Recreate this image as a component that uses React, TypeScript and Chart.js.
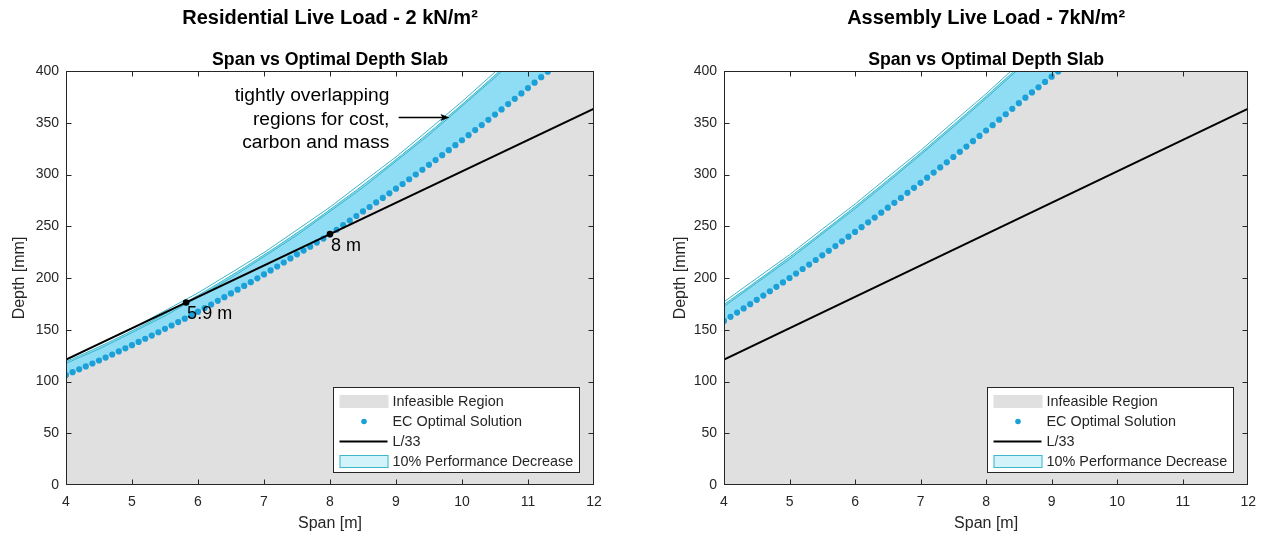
import React, { useEffect, useRef } from 'react';
import { Chart, registerables } from 'chart.js';

Chart.register(...registerables);

const FONT = '"Liberation Sans", Arial, Helvetica, sans-serif';
const TEXT = '#262626';
const AXIS = '#262626';
const GREY = '#e0e0e0';
const DOT = '#1ca0d8';
const BAND = '#8fdcf5';
const TEAL = '#3cb6c8';
const LEGEND_BAND = '#d3f3fb';

// ---------- shared data ----------
const xTicks = [4, 5, 6, 7, 8, 9, 10, 11, 12];
const yTicks = [0, 50, 100, 150, 200, 250, 300, 350, 400];
const l33Span = [4, 12];
const l33Depth = [121.2, 363.6];
const infeasibleTailSpan = [12];
const infeasibleTailDepth = [400];
const legendLabels = ['Infeasible Region', 'EC Optimal Solution', 'L/33', '10% Performance Decrease'];

// ---------- Residential (2 kN/m²) ----------
const resSpan = [
  4.0, 4.1, 4.2, 4.3, 4.4, 4.5, 4.6, 4.7, 4.8, 4.9,
  5.0, 5.1, 5.2, 5.3, 5.4, 5.5, 5.6, 5.7, 5.8, 5.9,
  6.0, 6.1, 6.2, 6.3, 6.4, 6.5, 6.6, 6.7, 6.8, 6.9,
  7.0, 7.1, 7.2, 7.3, 7.4, 7.5, 7.6, 7.7, 7.8, 7.9,
  8.0, 8.1, 8.2, 8.3, 8.4, 8.5, 8.6, 8.7, 8.8, 8.9,
  9.0, 9.1, 9.2, 9.3, 9.4, 9.5, 9.6, 9.7, 9.8, 9.9,
  10.0, 10.1, 10.2, 10.3, 10.4, 10.5, 10.6, 10.7, 10.8, 10.9,
  11.0, 11.1, 11.2, 11.3,
];
const resOptimalDepth = [
  106.3, 109.0, 111.8, 114.6, 117.4, 120.3, 123.1, 126.1, 129.1, 132.1,
  135.1, 138.2, 141.3, 144.4, 147.6, 150.9, 154.1, 157.4, 160.7, 164.1,
  167.5, 170.9, 174.4, 177.9, 181.5, 185.1, 188.7, 192.3, 196.0, 199.7,
  203.5, 207.3, 211.1, 215.0, 218.9, 222.9, 226.5, 230.3, 234.2, 238.1,
  242.0, 246.6, 251.0, 255.5, 259.9, 264.3, 268.6, 273.0, 277.4, 281.8,
  286.3, 290.8, 295.4, 300.0, 304.6, 309.3, 313.9, 318.7, 323.5, 328.3,
  333.1, 338.0, 342.9, 347.8, 352.8, 357.9, 362.9, 368.0, 373.1, 378.3,
  383.5, 388.7, 394.0, 399.3,
];
const resBandTop = [
  119.3, 122.0, 124.9, 127.7, 130.6, 133.6, 136.5, 139.6, 142.7, 145.8,
  149.0, 152.2, 155.5, 158.7, 162.1, 165.6, 169.0, 172.5, 176.0, 179.7,
  183.3, 187.0, 190.7, 194.5, 198.4, 202.3, 206.2, 210.1, 214.2, 218.2,
  222.4, 226.5, 230.7, 235.0, 239.3, 243.7, 248.0, 252.4, 257.0, 261.5,
  266.1, 270.8, 275.5, 280.2, 284.9, 289.8, 294.6, 299.6, 304.5, 309.5,
  314.6, 319.6, 324.8, 330.0, 335.3, 340.6, 345.8, 351.3, 356.7, 362.2,
  367.7, 373.3, 378.9, 384.5, 390.3, 396.1, 401.8, 407.7, 413.6, 419.6,
  425.6, 431.6, 437.7, 443.8,
];
const resOutlineSpan = [4, 4.5, 5, 5.5, 6, 6.5, 7, 7.5, 8, 8.5, 9, 9.5, 10, 10.5, 11];
const resOutlineCost = [120.6, 136.3, 151.2, 168.4, 185.6, 205.0, 224.6, 246.5, 268.5, 292.8, 317.0, 343.5, 370.5, 399.0, 428.5];
const resOutlineMass = [117.5, 131.4, 147.2, 163.4, 181.5, 200.1, 220.6, 241.4, 264.3, 287.4, 312.8, 338.3, 366.0, 393.8, 423.5];
const resMarkerSpan = [5.82, 8.0];
const resMarkerDepth = [176.4, 242.4];
const resMarkerLabels = ['5.9 m', '8 m'];
const resNoteLines = ['tightly overlapping', 'regions for cost,', 'carbon and mass'];
const resNoteSpan = 8.9;
const resNoteDepth = [375.8, 352.7, 330.4];
const resArrowSpan = [9.04, 9.81];
const resArrowDepth = 355.5;

// ---------- Assembly (7 kN/m²) ----------
const asmSpan = [
  4.0, 4.1, 4.2, 4.3, 4.4, 4.5, 4.6, 4.7, 4.8, 4.9,
  5.0, 5.1, 5.2, 5.3, 5.4, 5.5, 5.6, 5.7, 5.8, 5.9,
  6.0, 6.1, 6.2, 6.3, 6.4, 6.5, 6.6, 6.7, 6.8, 6.9,
  7.0, 7.1, 7.2, 7.3, 7.4, 7.5, 7.6, 7.7, 7.8, 7.9,
  8.0, 8.1, 8.2, 8.3, 8.4, 8.5, 8.6, 8.7, 8.8, 8.9,
  9.0, 9.1,
];
const asmOptimalDepth = [
  158.5, 162.5, 166.6, 170.6, 174.7, 178.9, 183.0, 187.2, 191.5, 195.7,
  200.0, 204.3, 208.7, 213.0, 217.4, 221.9, 226.3, 230.8, 235.4, 239.9,
  244.5, 249.1, 253.8, 258.4, 263.1, 267.9, 272.6, 277.4, 282.3, 287.1,
  292.0, 296.9, 301.9, 306.8, 311.8, 316.9, 321.9, 327.0, 332.2, 337.3,
  342.5, 347.7, 353.0, 358.2, 363.5, 368.9, 374.2, 379.3, 384.3, 389.4,
  394.5, 399.6,
];
const asmBandTop = [
  174.5, 178.9, 183.5, 187.9, 192.4, 197.1, 201.6, 206.2, 210.9, 215.6,
  220.3, 225.0, 229.9, 234.6, 239.4, 244.4, 249.2, 254.1, 259.1, 264.1,
  269.1, 274.1, 279.3, 284.3, 289.4, 294.7, 299.8, 305.0, 310.3, 315.6,
  320.9, 326.2, 331.7, 337.0, 342.4, 348.0, 353.4, 358.9, 364.5, 370.1,
  375.7, 381.3, 387.1, 392.7, 398.4, 404.3, 410.0, 415.8, 421.7, 427.6,
  433.5, 439.4,
];
const asmOutlineSpan = [4, 4.5, 5, 5.5, 6, 6.5, 7, 7.5, 8, 8.5, 9];
const asmOutlineCost = [177.0, 199.8, 222.5, 247.2, 271.4, 297.5, 323.2, 350.8, 378.0, 407.0, 436.0];
const asmOutlineMass = [172.5, 195.3, 218.1, 242.6, 267.0, 292.6, 319.0, 345.9, 373.6, 402.1, 431.0];

type Spec = {
  title: string;
  subtitle: string;
  span: number[];
  optimal: number[];
  bandTop: number[];
  outlineSpan: number[];
  outlineCost: number[];
  outlineMass: number[];
  markerSpan: number[];
  markerDepth: number[];
  markerLabels: string[];
  note: boolean;
  left: number;
  width: number;
  padLeft: number;
  padRight: number;
  yTitlePad: number;
};

const residential: Spec = {
  title: 'Residential Live Load - 2 kN/m²',
  subtitle: 'Span vs Optimal Depth Slab',
  span: resSpan,
  optimal: resOptimalDepth,
  bandTop: resBandTop,
  outlineSpan: resOutlineSpan,
  outlineCost: resOutlineCost,
  outlineMass: resOutlineMass,
  markerSpan: resMarkerSpan,
  markerDepth: resMarkerDepth,
  markerLabels: resMarkerLabels,
  note: true,
  left: 0,
  width: 632,
  padLeft: 10,
  padRight: 38,
  yTitlePad: 0,
};

const assembly: Spec = {
  title: 'Assembly Live Load - 7kN/m²',
  subtitle: 'Span vs Optimal Depth Slab',
  span: asmSpan,
  optimal: asmOptimalDepth,
  bandTop: asmBandTop,
  outlineSpan: asmOutlineSpan,
  outlineCost: asmOutlineCost,
  outlineMass: asmOutlineMass,
  markerSpan: [],
  markerDepth: [],
  markerLabels: [],
  note: false,
  left: 632,
  width: 633,
  padLeft: 36,
  padRight: 15,
  yTitlePad: 3,
};

const zip = (xs: number[], ys: number[]) => xs.map((x, i) => ({ x, y: ys[i] }));

function decorPlugin(s: Spec) {
  return {
    id: 'decor',
    afterDatasetsDraw(chart: any) {
      const { ctx, chartArea: a, scales } = chart;
      const xs = scales.x;
      const ys = scales.y;
      const L = Math.round(a.left) + 0.5;
      const R = Math.round(a.right) - 0.5;
      const T = Math.round(a.top) + 0.5;
      const B = Math.round(a.bottom) - 0.5;
      ctx.save();

      // annotations
      ctx.fillStyle = '#000';
      ctx.strokeStyle = '#000';
      if (s.note) {
        ctx.font = `19.2px ${FONT}`;
        ctx.textAlign = 'right';
        ctx.textBaseline = 'middle';
        resNoteLines.forEach((t, i) => {
          ctx.fillText(t, xs.getPixelForValue(resNoteSpan), ys.getPixelForValue(resNoteDepth[i]));
        });
        const x0 = xs.getPixelForValue(resArrowSpan[0]);
        const x1 = xs.getPixelForValue(resArrowSpan[1]);
        const y0 = Math.round(ys.getPixelForValue(resArrowDepth)) + 0.5;
        ctx.lineWidth = 1.3;
        ctx.beginPath();
        ctx.moveTo(x0, y0);
        ctx.lineTo(x1 - 6, y0);
        ctx.stroke();
        ctx.beginPath();
        ctx.moveTo(x1, y0);
        ctx.lineTo(x1 - 9, y0 - 3.5);
        ctx.lineTo(x1 - 7, y0);
        ctx.lineTo(x1 - 9, y0 + 3.5);
        ctx.closePath();
        ctx.fill();
      }
      ctx.font = `18px ${FONT}`;
      ctx.textAlign = 'left';
      ctx.textBaseline = 'top';
      s.markerSpan.forEach((v, i) => {
        const px = xs.getPixelForValue(v);
        const py = ys.getPixelForValue(s.markerDepth[i]);
        ctx.fillText(s.markerLabels[i], px + 1, py + 3);
      });

      // axes box + inward ticks
      ctx.strokeStyle = AXIS;
      ctx.lineWidth = 1;
      ctx.strokeRect(L, T, R - L, B - T);
      ctx.beginPath();
      const TICK = 5;
      xTicks.slice(1, -1).forEach((v) => {
        const px = Math.round(xs.getPixelForValue(v)) + 0.5;
        ctx.moveTo(px, B);
        ctx.lineTo(px, B - TICK);
        ctx.moveTo(px, T);
        ctx.lineTo(px, T + TICK);
      });
      yTicks.slice(1, -1).forEach((v) => {
        const py = Math.round(ys.getPixelForValue(v)) + 0.5;
        ctx.moveTo(L, py);
        ctx.lineTo(L + TICK, py);
        ctx.moveTo(R, py);
        ctx.lineTo(R - TICK, py);
      });
      ctx.stroke();

      // legend
      const lw = 246;
      const lh = 85;
      const lx = Math.round(a.right) - 261 + 0.5;
      const ly = Math.round(a.bottom) - 98 + 0.5;
      ctx.fillStyle = '#fff';
      ctx.fillRect(lx, ly, lw, lh);
      ctx.strokeStyle = AXIS;
      ctx.lineWidth = 1;
      ctx.strokeRect(lx, ly, lw, lh);
      const rows = [14, 34, 54, 74].map((r) => ly + r);
      const sx0 = lx + 6;
      const sx1 = lx + 55;
      ctx.fillStyle = GREY;
      ctx.fillRect(sx0, rows[0] - 6.5, sx1 - sx0, 13);
      ctx.fillStyle = DOT;
      ctx.beginPath();
      ctx.arc((sx0 + sx1) / 2, rows[1], 2.8, 0, Math.PI * 2);
      ctx.fill();
      ctx.strokeStyle = '#000';
      ctx.lineWidth = 2;
      ctx.beginPath();
      ctx.moveTo(sx0, rows[2]);
      ctx.lineTo(sx1 - 1, rows[2]);
      ctx.stroke();
      ctx.fillStyle = LEGEND_BAND;
      ctx.fillRect(sx0, rows[3] - 6.5, sx1 - sx0, 13);
      ctx.strokeStyle = TEAL;
      ctx.lineWidth = 1;
      ctx.strokeRect(sx0 + 0.5, rows[3] - 6, sx1 - sx0 - 1, 12);
      ctx.fillStyle = TEXT;
      ctx.font = `14.4px ${FONT}`;
      ctx.textAlign = 'left';
      ctx.textBaseline = 'middle';
      legendLabels.forEach((t, i) => ctx.fillText(t, lx + 59, rows[i] + 0.5));

      ctx.restore();
    },
    afterDraw(chart: any) {
      const { ctx, chartArea: a } = chart;
      const cx = (a.left + a.right) / 2;
      ctx.save();
      ctx.fillStyle = '#000';
      ctx.textAlign = 'center';
      ctx.textBaseline = 'middle';
      ctx.font = `bold 20px ${FONT}`;
      ctx.fillText(s.title, cx, 18);
      ctx.font = `bold 17.7px ${FONT}`;
      ctx.fillText(s.subtitle, cx, 60);
      ctx.restore();
    },
  };
}

function makeConfig(s: Spec): any {
  const optimalPts = zip(s.span, s.optimal);
  return {
    type: 'line',
    data: {
      datasets: [
        {
          label: 'markers',
          data: zip(s.markerSpan, s.markerDepth),
          showLine: false,
          pointRadius: 3.3,
          pointBackgroundColor: '#000',
          pointBorderWidth: 0,
          fill: false,
          order: 0,
        },
        {
          label: 'L/33',
          data: zip(l33Span, l33Depth),
          borderColor: '#000',
          borderWidth: 2,
          pointRadius: 0,
          fill: false,
          order: 1,
        },
        {
          label: 'EC Optimal Solution',
          data: optimalPts,
          showLine: false,
          pointRadius: 3.1,
          pointBackgroundColor: DOT,
          pointBorderWidth: 0,
          fill: false,
          order: 2,
        },
        {
          label: 'cost',
          data: zip(s.outlineSpan, s.outlineCost),
          borderColor: TEAL,
          borderWidth: 1,
          pointRadius: 0,
          fill: false,
          order: 3,
        },
        {
          label: 'mass',
          data: zip(s.outlineSpan, s.outlineMass),
          borderColor: TEAL,
          borderWidth: 1,
          pointRadius: 0,
          fill: false,
          order: 3,
        },
        {
          label: '10% Performance Decrease',
          data: zip(s.span, s.bandTop),
          borderColor: TEAL,
          borderWidth: 1,
          pointRadius: 0,
          backgroundColor: BAND,
          fill: 2,
          order: 4,
        },
        {
          label: 'Infeasible Region',
          data: [...optimalPts, ...zip(infeasibleTailSpan, infeasibleTailDepth)],
          borderWidth: 0,
          borderColor: 'rgba(0,0,0,0)',
          pointRadius: 0,
          backgroundColor: GREY,
          fill: 'origin',
          order: 5,
        },
      ],
    },
    options: {
      responsive: false,
      maintainAspectRatio: false,
      animation: false,
      devicePixelRatio: 1,
      events: [],
      layout: { padding: { left: s.padLeft, right: s.padRight, top: 71, bottom: 0 } },
      plugins: {
        legend: { display: false },
        tooltip: { enabled: false },
        title: { display: false },
      },
      scales: {
        x: {
          type: 'linear',
          min: 4,
          max: 12,
          afterFit: (sc: any) => {
            sc.height = 53;
          },
          grid: { display: false, drawTicks: false },
          border: { display: false },
          ticks: {
            stepSize: 1,
            padding: 9,
            autoSkip: false,
            maxRotation: 0,
            color: TEXT,
            font: { family: FONT, size: 14 },
          },
          title: {
            display: true,
            text: 'Span [m]',
            color: TEXT,
            font: { family: FONT, size: 16 },
            padding: { top: 0, bottom: 5 },
          },
        },
        y: {
          type: 'linear',
          min: 0,
          max: 400,
          afterFit: (sc: any) => {
            sc.width = 56;
          },
          grid: { display: false, drawTicks: false },
          border: { display: false },
          ticks: {
            stepSize: 50,
            padding: 7,
            color: TEXT,
            font: { family: FONT, size: 14 },
          },
          title: {
            display: true,
            text: 'Depth [mm]',
            color: TEXT,
            font: { family: FONT, size: 16 },
            padding: { top: s.yTitlePad, bottom: 0 },
          },
        },
      },
    },
    plugins: [decorPlugin(s)],
  };
}

function ChartPanel({ spec }: { spec: Spec }) {
  const ref = useRef<HTMLCanvasElement | null>(null);
  useEffect(() => {
    if (!ref.current) return;
    const chart = new Chart(ref.current, makeConfig(spec));
    return () => chart.destroy();
  }, [spec]);
  return (
    <canvas
      ref={ref}
      width={spec.width}
      height={538}
      style={{ position: 'absolute', left: spec.left, top: 0, width: spec.width, height: 538 }}
    />
  );
}

export default function App() {
  return (
    <div style={{ position: 'absolute', left: 0, top: 0, width: 1265, height: 538, background: '#fff', overflow: 'hidden' }}>
      <ChartPanel spec={residential} />
      <ChartPanel spec={assembly} />
    </div>
  );
}
